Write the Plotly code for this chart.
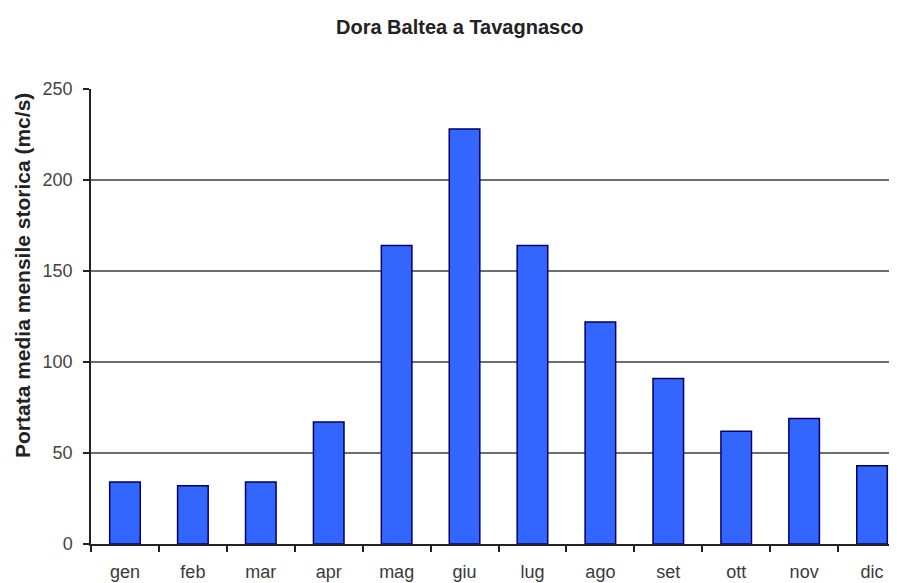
import plotly.graph_objects as go

months = ["gen", "feb", "mar", "apr", "mag", "giu", "lug", "ago", "set", "ott", "nov", "dic"]
portata = [34, 32, 34, 67, 164, 228, 164, 122, 91, 62, 69, 43]
y_ticks = [0, 50, 100, 150, 200, 250]

title_text = "Dora Baltea a Tavagnasco"
y_title = "Portata media mensile storica (mc/s)"

fig = go.Figure()
fig.add_trace(go.Bar(
    x=months, y=portata, width=0.45,
    marker=dict(color="#3366FF", line=dict(color="#000066", width=1.5)),
))

# page body has an 8px margin; compensate
W, H = 898, 583
L, R, T, B = 83, 0, 81, 47
PW, PH = W - L - R, H - T - B

fig.update_layout(
    width=W, height=H,
    margin=dict(l=L, r=R, t=T, b=B, autoexpand=False),
    paper_bgcolor="white", plot_bgcolor="white",
    showlegend=False,
    font=dict(family="Liberation Sans, Arial, sans-serif", size=18, color="#333333"),
)
fig.update_xaxes(
    type="category", range=[-0.5, 11.5],
    showline=True, linecolor="#222222", linewidth=1.5,
    ticks="outside", tickson="boundaries", ticklen=6, tickcolor="#222222", tickwidth=1.5,
    showgrid=False, tickfont=dict(size=18, color="#3a3a3a"),
    ticklabelstandoff=11,
    automargin=False,
)
fig.update_yaxes(
    range=[0, 250], tickvals=y_ticks,
    showline=True, linecolor="#222222", linewidth=1.5,
    ticks="outside", ticklen=6, tickcolor="#222222", tickwidth=1.5,
    showgrid=True, gridcolor="#6e6e6e", gridwidth=1.6,
    zeroline=False, tickfont=dict(size=18, color="#444444"),
    ticklabelstandoff=7,
    automargin=False,
)
fig.add_annotation(
    text="<b>" + title_text + "</b>", xref="paper", yref="paper",
    x=(452 - L) / PW, y=(H - B - 19) / PH,
    showarrow=False, font=dict(size=20, color="#222222"),
    xanchor="center", yanchor="middle",
)
fig.add_annotation(
    text="<b>" + y_title + "</b>", xref="paper", yref="paper",
    x=(14 - L) / PW, y=(H - B - 268) / PH,
    textangle=-90, showarrow=False, font=dict(size=21, color="#222222"),
    xanchor="center", yanchor="middle",
)

fig.write_html("out.html")
